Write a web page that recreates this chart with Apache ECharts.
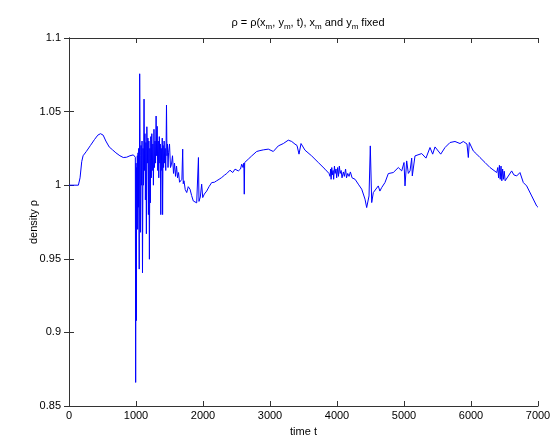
<!DOCTYPE html>
<html>
<head>
<meta charset="utf-8">
<script src="https://cdn.jsdelivr.net/npm/echarts@6/dist/echarts.min.js"></script>
<style>html,body{margin:0;padding:0;background:#fff}#c{width:558px;height:443px}</style>
</head>
<body>
<div id="c"></div>
<script>
var xTicks = [0, 1000, 2000, 3000, 4000, 5000, 6000, 7000];
var yTicks = [0.85, 0.9, 0.95, 1, 1.05, 1.1];

var times = [
  0, 140, 165, 190, 210, 260, 320, 380, 430, 470, 510, 550, 600, 650, 700, 760, 810, 860, 910, 960, 985,
  990, 995, 1000, 1005, 1010, 1015, 1020, 1025, 1030, 1035, 1040, 1048, 1055, 1062, 1068, 1075, 1082, 1090, 1097,
  1105, 1112, 1120, 1127, 1134, 1140, 1148, 1155, 1162, 1170, 1178, 1185, 1192, 1200, 1207, 1214, 1221, 1228,
  1236, 1244, 1252, 1260, 1268, 1276, 1284, 1292, 1300, 1308, 1316, 1324, 1332, 1340, 1348, 1356, 1363, 1370,
  1377, 1385, 1392, 1397, 1404, 1412, 1420, 1428, 1436, 1444, 1450, 1455, 1462, 1470, 1478, 1486,
  1500, 1515, 1530, 1545, 1560, 1575, 1590, 1605, 1620, 1635, 1650, 1667, 1685, 1697, 1705, 1716, 1735, 1757,
  1780, 1806, 1830, 1855, 1880, 1906, 1925, 1932, 1940, 1960, 1980, 1996, 2020, 2055, 2090, 2130, 2170, 2204,
  2240, 2279, 2320, 2354, 2403, 2443, 2478, 2527, 2560, 2578, 2598, 2610, 2616, 2622, 2650, 2676, 2727, 2801,
  2850, 2900, 2975, 3049, 3124, 3199, 3273, 3324, 3373, 3403, 3433, 3463, 3522, 3622, 3721, 3821, 3880,
  3896, 3905, 3912, 3922, 3930, 3942, 3950, 3962, 3972, 3985, 3995, 4010, 4022, 4035, 4048, 4062, 4075, 4095,
  4110, 4128, 4142, 4160, 4180, 4200, 4225, 4250, 4270, 4318, 4369, 4418, 4443, 4478, 4497, 4518, 4542, 4567,
  4616, 4640, 4667, 4716, 4766, 4840,
  4915, 4966, 5000, 5015, 5040, 5065, 5090, 5115, 5124, 5164, 5264, 5328, 5388, 5428, 5463, 5548, 5612, 5687,
  5761, 5836, 5885, 5940, 5960, 5975, 6034, 6085, 6134, 6209, 6284, 6384, 6400, 6412, 6424, 6436, 6448, 6460,
  6472, 6484, 6496, 6510, 6533, 6607, 6640, 6682, 6731, 6781, 6831, 6906, 6980, 7000
];

var density = [
  1.0, 1.0, 1.005, 1.016, 1.020, 1.023, 1.027, 1.031, 1.034, 1.035, 1.034, 1.030, 1.026, 1.024, 1.022, 1.020, 1.0188, 1.0190, 1.0200, 1.0206, 1.020,
  1.019, 0.866, 1.015, 0.908, 1.012, 0.99, 1.02, 0.97, 1.022, 0.985, 1.025, 0.943, 1.0757, 1.02, 0.968, 1.027, 1.0, 1.03, 0.9405,
  1.025, 1.0, 1.0585, 1.01, 1.035, 0.99, 1.029, 0.967, 1.0397, 1.015, 1.032, 0.98, 1.03, 0.9497, 1.025, 0.988, 1.033, 1.005,
  1.035, 1.01, 1.028, 1.0, 1.038, 1.012, 1.03, 1.015, 1.047, 1.02, 1.04, 1.01, 1.03, 1.005, 1.033, 1.015, 1.028, 0.980,
  1.025, 1.01, 1.032, 0.980, 1.027, 1.012, 1.03, 1.015, 1.025, 1.01, 1.03, 1.0544, 1.02, 1.028, 1.012, 1.022,
  1.028, 1.012, 1.0143, 1.02, 1.008, 1.015, 1.006, 1.013, 1.005, 1.0086, 1.002, 1.0007, 1.004, 1.0245, 1.001, 1.003, 0.997, 0.995,
  0.999, 0.9973, 0.993, 0.9893, 0.990, 0.988, 0.989, 1.0188, 0.989, 0.992, 1.0007, 0.9916, 0.994, 0.996, 0.999, 1.0018, 1.002, 1.003,
  1.004, 1.0052, 1.0068, 1.0079, 1.0102, 1.0086, 1.0109, 1.0097, 1.011, 1.0143, 1.012, 1.015, 0.9939, 1.0154, 1.016, 1.0177, 1.0199, 1.0229,
  1.0235, 1.024, 1.0245, 1.0229, 1.0267, 1.0283, 1.0306, 1.0297, 1.0279, 1.027, 1.0211, 1.0283, 1.0238, 1.0199, 1.0154, 1.0109, 1.008,
  1.006, 1.011, 1.004, 1.012, 1.007, 1.010, 1.004, 1.013, 1.008, 1.011, 1.005, 1.012, 1.006, 1.013, 1.008, 1.010, 1.005, 1.009,
  1.006, 1.011, 1.005, 1.008, 1.006, 1.009, 1.005, 1.006, 1.004, 1.0007, 0.9973, 0.9905, 0.9848, 0.9927, 1.0267, 0.9882, 0.995, 0.9939,
  0.9995, 0.996, 0.9984, 1.0018, 1.0079, 1.0086,
  1.012, 1.0097, 1.0154, 0.9995, 1.0165, 1.008, 1.0097, 1.0184, 1.0063, 1.0199, 1.0215, 1.0184, 1.0256, 1.0211, 1.026, 1.0211, 1.0256, 1.029,
  1.0297, 1.0283, 1.0297, 1.028, 1.0188, 1.029, 1.0233, 1.0211, 1.0188, 1.0154, 1.012, 1.0086, 1.012, 1.005, 1.0135, 1.004, 1.013, 1.003,
  1.011, 1.004, 1.0095, 1.003, 1.0041, 1.0097, 1.007, 1.0063, 1.0086, 1.0018, 0.9995, 0.9927, 0.9859, 0.985
];

var FONT = '"Liberation Sans", Arial, sans-serif';
var chart = echarts.init(document.getElementById('c'), null, {renderer: 'canvas'});
var axisCommon = {
  axisLine: {show: true, lineStyle: {color: '#333', width: 1}},
  axisTick: {show: true, inside: true, length: 5, lineStyle: {color: '#333'}},
  splitLine: {show: false}
};
function fmt(v) { return String(+(+v).toFixed(2)); }
chart.setOption({
  animation: false,
  backgroundColor: '#fff',
  title: {
    text: 'ρ = ρ(x{s|m}, y{s|m}, t), x{s|m} and y{s|m} fixed',
    left: 303, top: 10, textAlign: 'center',
    textStyle: {
      fontSize: 11, fontWeight: 'normal', color: '#000', fontFamily: FONT, lineHeight: 16,
      rich: {s: {fontSize: 8, color: '#000', fontFamily: FONT, verticalAlign: 'bottom', lineHeight: 10}}
    }
  },
  grid: {left: 69, right: 20, top: 38, bottom: 37, containLabel: false},
  xAxis: [
    Object.assign({
      type: 'value', min: xTicks[0], max: xTicks[xTicks.length - 1], interval: 1000,
      name: 'time t', nameLocation: 'middle', nameGap: 20,
      nameTextStyle: {fontSize: 11, color: '#000', fontFamily: FONT},
      axisLabel: {fontSize: 11, color: '#000', fontFamily: FONT, margin: 4, formatter: fmt}
    }, axisCommon),
    Object.assign({
      type: 'value', position: 'top', min: xTicks[0], max: xTicks[xTicks.length - 1], interval: 1000,
      axisLabel: {show: false}
    }, axisCommon)
  ],
  yAxis: [
    Object.assign({
      type: 'value', min: yTicks[0], max: yTicks[yTicks.length - 1], interval: 0.05,
      name: 'density ρ', nameLocation: 'middle', nameGap: 30, nameRotate: 90, nameMoveOverlap: false,
      nameTextStyle: {fontSize: 11, color: '#000', fontFamily: FONT},
      axisLabel: {fontSize: 11, color: '#000', fontFamily: FONT, margin: 8, formatter: fmt}
    }, axisCommon),
    Object.assign({
      type: 'value', position: 'right', min: yTicks[0], max: yTicks[yTicks.length - 1], interval: 0.05,
      axisLabel: {show: false}
    }, axisCommon)
  ],
  series: [{
    type: 'line',
    data: times.map(function (t, i) { return [t, density[i]]; }),
    showSymbol: false,
    symbol: 'none',
    lineStyle: {color: '#0000ff', width: 1},
    xAxisIndex: 0, yAxisIndex: 0
  }]
});
</script>
</body>
</html>
